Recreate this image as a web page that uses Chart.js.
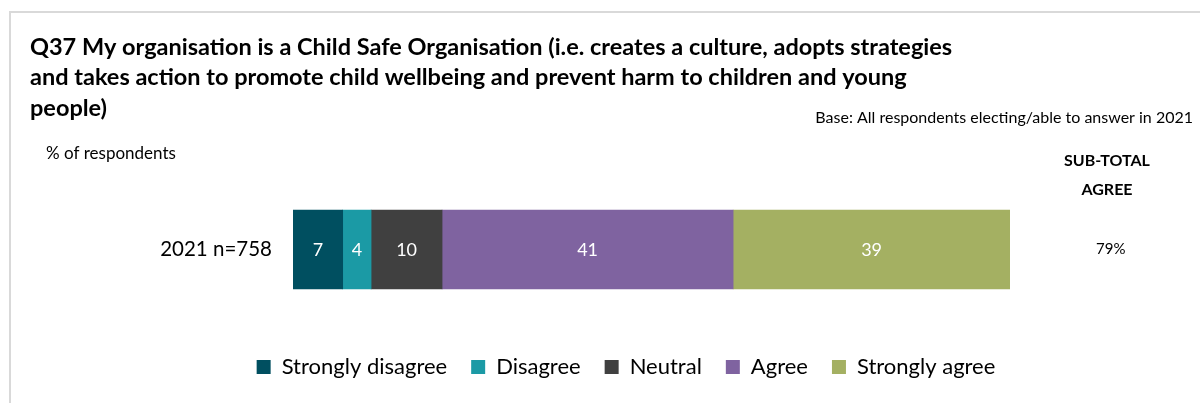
<!DOCTYPE html>
<html>
<head>
<meta charset="utf-8">
<script src="https://cdn.jsdelivr.net/npm/chart.js@4.4.1/dist/chart.umd.min.js"></script>
<style>
  html, body { margin: 0; padding: 0; background: #fff; }
  #wrap { width: 1200px; height: 403px; position: relative; }
</style>
</head>
<body>
<div id="wrap"><canvas id="canvas-q37"></canvas></div>
<script>
const categories = ["2021 n=758"];
const seriesNames = ["Strongly disagree", "Disagree", "Neutral", "Agree", "Strongly agree"];
const seriesValues = [[7], [4], [10], [41], [39]];
const seriesColors = ["#004f60", "#1b9aa5", "#404040", "#7f63a0", "#a4b062"];
const subtotalAgree = ["79%"];

const titleLines = [
  "Q37 My organisation is a Child Safe Organisation (i.e. creates a culture, adopts strategies",
  "and takes action to promote child wellbeing and prevent harm to children and young",
  "people)",
];
const baseNote = "Base: All respondents electing/able to answer in 2021";
const yNote = "% of respondents";
const subtotalHeader = ["SUB-TOTAL", "AGREE"];

const FONT = "Lato, 'Noto Sans', sans-serif";
const total = seriesValues.reduce((s, v) => s + v[0], 0);

// text + frame drawn around the chart
const decorations = {
  id: "decorations",
  afterDraw(chart) {
    const ctx = chart.ctx;
    ctx.save();
    ctx.strokeStyle = "#d9d9d9";
    ctx.lineWidth = 2;
    ctx.beginPath();
    ctx.moveTo(10, 403);
    ctx.lineTo(10, 12);
    ctx.lineTo(1200, 12);
    ctx.stroke();

    ctx.fillStyle = "#000";
    ctx.textBaseline = "middle";
    ctx.textAlign = "left";
    ctx.font = "bold 23.5px " + FONT;
    titleLines.forEach((t, i) => ctx.fillText(t, 30, 47 + i * 30.5));

    ctx.font = "16px " + FONT;
    ctx.textAlign = "right";
    ctx.fillText(baseNote, 1193, 118);

    ctx.font = "17px " + FONT;
    ctx.textAlign = "left";
    ctx.fillText(yNote, 46, 154);

    ctx.font = "bold 16px " + FONT;
    ctx.textAlign = "center";
    ctx.fillText(subtotalHeader[0], 1107, 161);
    ctx.fillText(subtotalHeader[1], 1107, 190);
    ctx.restore();
  },
};

// value labels inside segments
const segmentLabels = {
  id: "segmentLabels",
  afterDatasetsDraw(chart) {
    const ctx = chart.ctx;
    ctx.save();
    ctx.fillStyle = "#fff";
    ctx.font = "18px " + FONT;
    ctx.textAlign = "center";
    ctx.textBaseline = "middle";
    chart.data.datasets.forEach((ds, i) => {
      chart.getDatasetMeta(i).data.forEach((bar, j) => {
        const p = bar.getCenterPoint();
        ctx.fillText(String(ds.data[j]), p.x, p.y + 1);
      });
    });
    ctx.restore();
  },
};

// fixed axis widths, and no label padding pushed into the layout
function fixWidth(w) {
  return (scale) => {
    scale.width = w;
    scale.paddingTop = 0;
    scale.paddingBottom = 0;
  };
}

new Chart(document.getElementById("canvas-q37"), {
  type: "bar",
  plugins: [decorations, segmentLabels],
  data: {
    labels: categories,
    datasets: seriesNames.map((name, i) => ({
      label: name,
      data: seriesValues[i],
      backgroundColor: seriesColors[i],
      barThickness: 79,
    })),
  },
  options: {
    indexAxis: "y",
    responsive: true,
    maintainAspectRatio: false,
    animation: false,
    layout: {
      padding: { left: 62, right: 10, top: 167, bottom: 15 },
    },
    scales: {
      x: {
        stacked: true,
        min: 0,
        max: total,
        display: false,
      },
      y: {
        stacked: true,
        grid: { display: false, drawTicks: false },
        border: { display: false },
        ticks: {
          color: "#000",
          padding: 21,
          font: { family: FONT, size: 20.5 },
        },
        afterFit: fixWidth(231),
      },
      y2: {
        type: "category",
        labels: subtotalAgree,
        position: "right",
        offset: true,
        grid: { display: false, drawTicks: false },
        border: { display: false },
        ticks: {
          color: "#000",
          padding: 86,
          crossAlign: "center",
          font: { family: FONT, size: 15 },
        },
        afterFit: fixWidth(180),
      },
    },
    plugins: {
      title: { display: false },
      tooltip: { enabled: false },
      legend: {
        display: true,
        position: "bottom",
        labels: {
          color: "#000",
          boxWidth: 14,
          boxHeight: 14,
          padding: 24,
          font: { family: FONT, size: 22 },
        },
      },
    },
  },
});
</script>
</body>
</html>
